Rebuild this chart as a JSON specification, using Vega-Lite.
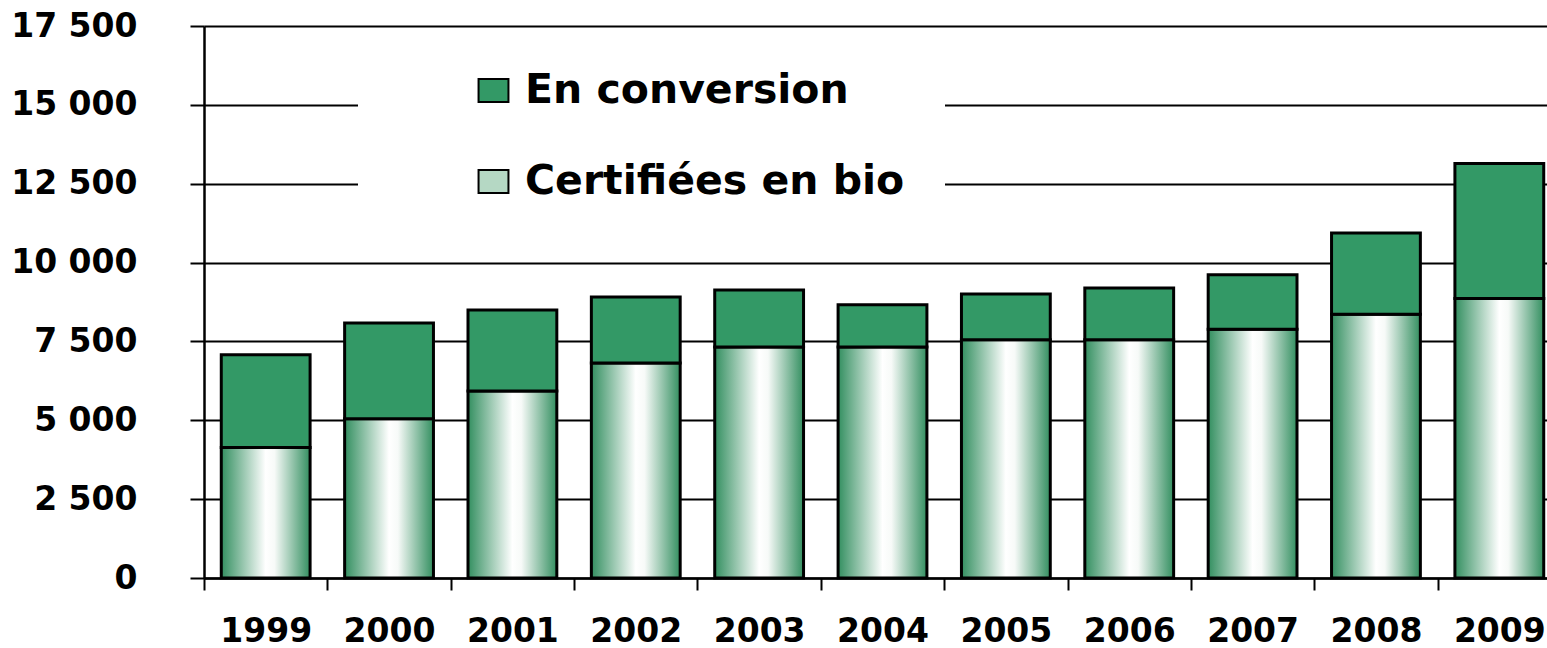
{
  "$schema": "https://vega.github.io/schema/vega-lite/v6.json",
  "autosize": "none",
  "width": 1343,
  "height": 552,
  "padding": {"left": 204, "top": 26, "right": 0, "bottom": 70},
  "background": "white",
  "config": {"view": {"stroke": null}, "font": "DejaVu Sans"},
  "data": {
    "values": [
      {"year": "1999", "type": "Certifiées en bio", "value": 4140},
      {"year": "1999", "type": "En conversion", "value": 2935},
      {"year": "2000", "type": "Certifiées en bio", "value": 5045},
      {"year": "2000", "type": "En conversion", "value": 3040},
      {"year": "2001", "type": "Certifiées en bio", "value": 5930},
      {"year": "2001", "type": "En conversion", "value": 2570},
      {"year": "2002", "type": "Certifiées en bio", "value": 6820},
      {"year": "2002", "type": "En conversion", "value": 2090},
      {"year": "2003", "type": "Certifiées en bio", "value": 7320},
      {"year": "2003", "type": "En conversion", "value": 1810},
      {"year": "2004", "type": "Certifiées en bio", "value": 7320},
      {"year": "2004", "type": "En conversion", "value": 1340},
      {"year": "2005", "type": "Certifiées en bio", "value": 7550},
      {"year": "2005", "type": "En conversion", "value": 1450},
      {"year": "2006", "type": "Certifiées en bio", "value": 7550},
      {"year": "2006", "type": "En conversion", "value": 1640},
      {"year": "2007", "type": "Certifiées en bio", "value": 7890},
      {"year": "2007", "type": "En conversion", "value": 1720},
      {"year": "2008", "type": "Certifiées en bio", "value": 8365},
      {"year": "2008", "type": "En conversion", "value": 2570},
      {"year": "2009", "type": "Certifiées en bio", "value": 8860},
      {"year": "2009", "type": "En conversion", "value": 4280}
    ]
  },
  "mark": {"type": "bar", "width": {"band": 0.72}, "stroke": "black", "strokeWidth": 3, "fillOpacity": 1},
  "encoding": {
    "x": {
      "field": "year",
      "type": "ordinal",
      "scale": {"range": [0, 1357], "paddingInner": 0, "paddingOuter": 0},
      "axis": {
        "title": null,
        "labelAngle": 0,
        "tickBand": "extent",
        "grid": false,
        "domainColor": "black",
        "domainWidth": 2.5,
        "tickColor": "black",
        "tickWidth": 2,
        "tickSize": 12,
        "labelFont": "DejaVu Sans",
        "labelFontWeight": "bold",
        "labelFontSize": 33,
        "labelColor": "black",
        "labelPadding": 25
      }
    },
    "y": {
      "field": "value",
      "type": "quantitative",
      "stack": "zero",
      "scale": {"domain": [0, 17500], "nice": false},
      "axis": {
        "title": null,
        "values": [0, 2500, 5000, 7500, 10000, 12500, 15000, 17500],
        "format": ",d",
        "labelExpr": "replace(datum.label, ',', ' ')",
        "grid": true,
        "gridColor": "black",
        "gridWidth": 2,
        "gridOpacity": 1,
        "domainColor": "black",
        "domainWidth": 2.5,
        "tickColor": "black",
        "tickWidth": 2,
        "tickSize": 14,
        "labelFont": "DejaVu Sans",
        "labelFontWeight": "bold",
        "labelFontSize": 33,
        "labelColor": "black",
        "labelPadding": 53,
        "labelFlush": false,
        "labelOverlap": false
      }
    },
    "fill": {
      "condition": {
        "test": "datum.type === 'Certifiées en bio'",
        "value": {"gradient": "linear", "x1": 0, "y1": 0, "x2": 1, "y2": 0,
          "stops": [
            {"offset": 0, "color": "#338f60"},
            {"offset": 0.5, "color": "#ffffff"},
            {"offset": 0.6, "color": "#f7faf8"},
            {"offset": 1, "color": "#338f60"}
          ]}
      },
      "field": "type",
      "type": "nominal",
      "scale": {
        "domain": ["En conversion", "Certifiées en bio"],
        "range": ["#339966", "#b5d8c4"]
      },
      "legend": {
        "title": null,
        "orient": "none",
        "legendX": 154,
        "legendY": 4,
        "direction": "vertical",
        "fillColor": "white",
        "padding": 40,
        "symbolOffset": 75,
        "symbolType": "M-1.3,-1H1.3V1H-1.3Z",
        "symbolSize": 529,
        "symbolStrokeColor": "black",
        "symbolStrokeWidth": 2,
        "symbolOpacity": 1,
        "labelFont": "DejaVu Sans",
        "labelFontWeight": "bold",
        "labelFontSize": 41,
        "labelColor": "black",
        "labelOffset": 11,
        "labelLimit": 0,
        "rowPadding": 49
      }
    },
    "order": {"field": "type", "sort": "ascending"}
  }
}
